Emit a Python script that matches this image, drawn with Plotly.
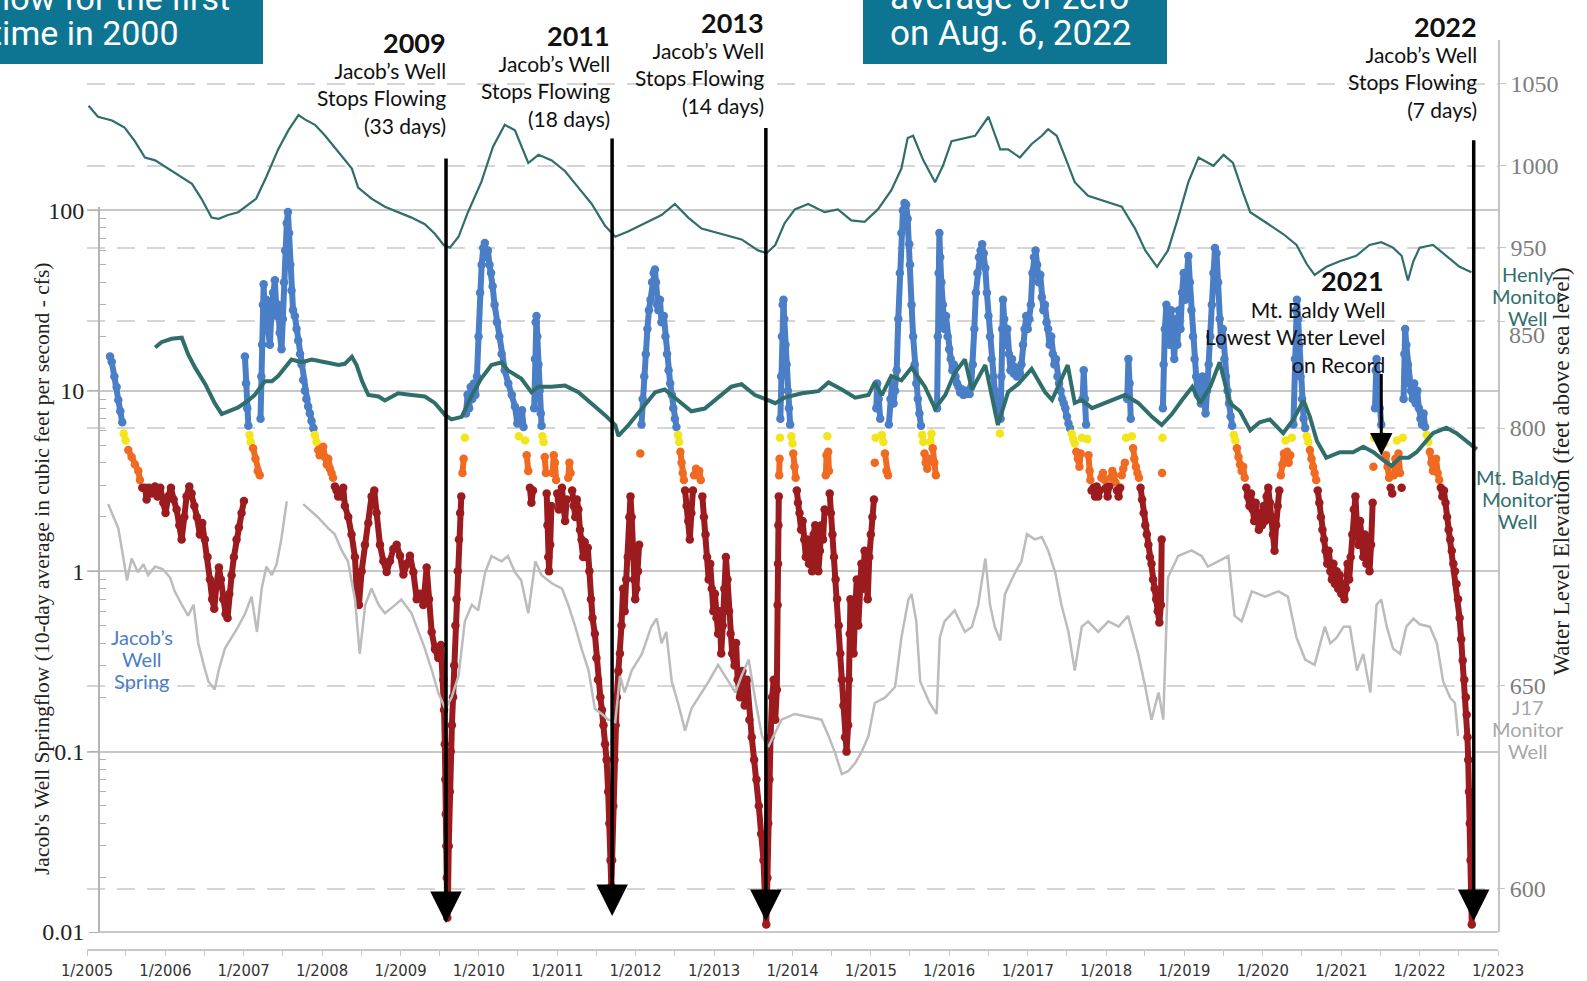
import plotly.graph_objects as go
from datetime import datetime

# ---------------- data (decimal year, value) ----------------
henly = [(2005.02,1036.7),(2005.14,1030.0),(2005.32,1027.7),(2005.48,1023.4),(2005.61,1015.1),(2005.74,1005.1),(2005.87,1003.4),(2006.04,998.4),(2006.21,993.4),(2006.34,989.1),(2006.46,980.1),(2006.59,968.5),(2006.68,967.8),(2006.80,970.1),(2006.93,971.8),(2007.06,976.8),(2007.16,980.1),(2007.29,993.4),(2007.44,1010.1),(2007.57,1021.7),(2007.70,1031.0),(2007.78,1028.4),(2007.91,1025.1),(2008.04,1018.4),(2008.21,1008.4),(2008.38,998.4),(2008.46,986.8),(2008.63,980.1),(2008.80,975.1),(2008.97,971.8),(2009.14,968.5),(2009.31,964.5),(2009.44,958.5),(2009.55,951.8),(2009.63,950.2),(2009.74,956.8),(2009.86,971.8),(2010.03,990.1),(2010.18,1011.7),(2010.33,1025.1),(2010.46,1021.7),(2010.63,1001.8),(2010.76,1006.8),(2010.93,1003.4),(2011.10,996.8),(2011.27,986.8),(2011.44,976.8),(2011.61,963.5),(2011.74,956.8),(2011.91,960.2),(2012.12,965.2),(2012.33,970.1),(2012.50,976.8),(2012.67,968.5),(2012.84,961.8),(2013.10,958.5),(2013.35,955.2),(2013.56,948.5),(2013.67,946.9),(2013.78,951.8),(2013.90,965.2),(2014.03,973.5),(2014.20,976.8),(2014.41,971.8),(2014.58,973.5),(2014.75,966.8),(2014.92,965.9),(2015.09,973.5),(2015.26,985.1),(2015.39,998.4),(2015.47,1017.0),(2015.54,1018.4),(2015.67,1003.4),(2015.82,990.1),(2015.92,1000.1),(2016.03,1015.1),(2016.16,1016.7),(2016.33,1018.4),(2016.50,1030.0),(2016.65,1010.1),(2016.75,1010.1),(2016.90,1005.1),(2017.05,1013.4),(2017.18,1018.4),(2017.26,1022.4),(2017.37,1018.4),(2017.48,1005.1),(2017.60,990.1),(2017.77,981.8),(2017.99,978.5),(2018.20,975.1),(2018.37,961.8),(2018.50,948.5),(2018.65,938.5),(2018.79,948.5),(2018.92,968.5),(2019.05,990.1),(2019.18,1005.1),(2019.37,1000.1),(2019.50,1006.8),(2019.62,1001.8),(2019.75,983.5),(2019.84,971.8),(2020.05,965.2),(2020.26,958.5),(2020.43,951.8),(2020.56,940.2),(2020.66,933.5),(2020.81,938.5),(2020.98,941.9),(2021.19,945.2),(2021.36,951.8),(2021.51,953.5),(2021.66,950.2),(2021.77,945.2),(2021.85,930.2),(2021.92,941.9),(2022.00,950.2),(2022.17,951.8),(2022.34,945.2),(2022.51,938.5),(2022.66,935.2)]

mt_baldy = [(2005.87,837.6),(2005.95,840.1),(2006.08,841.7),(2006.21,842.2),(2006.29,834.5),(2006.38,828.2),(2006.51,820.5),(2006.63,811.6),(2006.72,806.5),(2006.80,807.8),(2006.93,809.6),(2007.06,812.9),(2007.14,815.4),(2007.27,821.8),(2007.36,821.8),(2007.44,824.3),(2007.53,828.2),(2007.61,832.0),(2007.74,830.7),(2007.87,832.0),(2008.04,830.7),(2008.21,829.4),(2008.29,830.0),(2008.38,833.3),(2008.44,829.4),(2008.51,821.8),(2008.59,815.4),(2008.72,814.7),(2008.80,812.9),(2008.97,816.2),(2009.14,815.4),(2009.31,814.7),(2009.44,811.6),(2009.57,806.0),(2009.65,804.0),(2009.78,805.2),(2009.91,815.4),(2010.03,823.1),(2010.16,829.4),(2010.29,830.7),(2010.37,826.9),(2010.54,823.1),(2010.67,816.7),(2010.76,819.3),(2010.93,819.3),(2011.10,819.8),(2011.27,816.7),(2011.44,811.6),(2011.61,806.0),(2011.74,801.4),(2011.78,796.3),(2011.91,801.4),(2012.08,809.1),(2012.25,816.7),(2012.37,818.0),(2012.54,812.9),(2012.71,807.8),(2012.88,809.1),(2013.05,814.2),(2013.22,819.3),(2013.35,820.5),(2013.52,815.4),(2013.65,813.6),(2013.78,811.6),(2013.90,814.2),(2014.12,816.2),(2014.33,817.2),(2014.46,821.3),(2014.63,818.0),(2014.80,814.2),(2014.97,815.4),(2015.05,821.3),(2015.14,815.4),(2015.26,824.3),(2015.39,822.3),(2015.52,828.2),(2015.69,819.3),(2015.82,809.1),(2015.95,815.4),(2016.07,825.7),(2016.20,832.0),(2016.29,818.0),(2016.46,829.4),(2016.62,801.4),(2016.75,816.8),(2016.88,820.6),(2017.05,827.6),(2017.22,816.8),(2017.31,813.1),(2017.44,824.3),(2017.51,829.4),(2017.60,811.7),(2017.69,813.1),(2017.82,809.3),(2017.99,811.7),(2018.24,815.4),(2018.41,811.7),(2018.59,805.1),(2018.71,801.4),(2018.84,806.5),(2018.97,813.1),(2019.10,819.2),(2019.20,811.6),(2019.33,819.3),(2019.45,830.7),(2019.58,811.6),(2019.71,807.8),(2019.84,798.9),(2019.96,802.7),(2020.09,804.0),(2020.26,797.6),(2020.39,804.0),(2020.52,812.9),(2020.60,805.2),(2020.69,793.8),(2020.81,786.1),(2020.98,788.7),(2021.15,788.7),(2021.28,791.2),(2021.41,788.7),(2021.54,784.9),(2021.64,782.3),(2021.75,786.1),(2021.86,786.1),(2021.96,788.7),(2022.09,793.8),(2022.17,797.6),(2022.34,800.1),(2022.47,797.6),(2022.60,793.8),(2022.73,790.0)]

j17 = [(2005.27,694.8),(2005.34,691.5),(2005.40,688.8),(2005.46,682.0),(2005.51,676.0),(2005.57,681.4),(2005.65,678.0),(2005.72,680.0),(2005.78,677.3),(2005.87,679.4),(2005.97,678.7),(2006.06,676.7),(2006.12,673.3),(2006.21,670.0),(2006.29,667.3),(2006.36,670.0),(2006.42,660.5),(2006.49,655.2),(2006.55,651.1),(2006.63,649.1),(2006.68,653.8),(2006.76,659.2),(2006.85,661.9),(2006.93,664.6),(2007.02,667.9),(2007.10,672.0),(2007.17,663.3),(2007.23,674.0),(2007.29,679.4),(2007.36,677.3),(2007.42,680.0),(2007.48,686.1),(2007.55,695.5),(2007.65,None),(2007.76,694.8),(2007.95,691.5),(2008.08,688.8),(2008.16,687.4),(2008.25,683.4),(2008.33,680.7),(2008.42,671.3),(2008.48,657.9),(2008.55,670.0),(2008.63,674.0),(2008.72,670.0),(2008.80,667.9),(2008.89,669.3),(2009.01,671.3),(2009.14,667.9),(2009.23,663.3),(2009.31,659.2),(2009.40,653.8),(2009.48,648.4),(2009.57,644.4),(2009.65,647.1),(2009.74,652.5),(2009.82,665.9),(2009.91,670.0),(2009.99,668.6),(2010.08,678.0),(2010.16,682.0),(2010.29,680.7),(2010.37,682.0),(2010.46,678.0),(2010.54,676.0),(2010.63,667.9),(2010.72,680.7),(2010.80,677.3),(2010.93,675.3),(2011.06,674.0),(2011.14,670.0),(2011.23,664.6),(2011.31,659.2),(2011.40,653.8),(2011.48,644.4),(2011.57,643.1),(2011.65,641.7),(2011.74,641.1),(2011.80,652.5),(2011.86,648.4),(2011.95,653.8),(2012.08,657.9),(2012.20,664.6),(2012.27,666.6),(2012.33,660.5),(2012.39,663.3),(2012.46,651.1),(2012.54,645.8),(2012.63,639.0),(2012.71,644.4),(2012.80,647.1),(2012.93,651.1),(2013.05,655.2),(2013.18,651.1),(2013.27,648.4),(2013.35,652.5),(2013.44,656.5),(2013.52,647.1),(2013.61,637.7),(2013.69,635.0),(2013.78,638.4),(2013.86,641.7),(2014.03,643.1),(2014.20,642.4),(2014.37,641.7),(2014.46,637.7),(2014.54,633.7),(2014.63,628.3),(2014.71,629.0),(2014.80,631.0),(2014.88,633.7),(2014.97,637.7),(2015.05,645.8),(2015.18,647.1),(2015.31,649.8),(2015.39,661.9),(2015.48,671.3),(2015.52,672.6),(2015.58,665.9),(2015.63,651.1),(2015.69,648.4),(2015.75,645.8),(2015.84,643.1),(2015.88,661.9),(2015.94,665.9),(2016.07,668.6),(2016.20,663.3),(2016.29,664.6),(2016.37,670.0),(2016.46,681.4),(2016.52,670.0),(2016.58,664.6),(2016.65,661.2),(2016.71,672.6),(2016.84,678.0),(2016.92,680.7),(2016.99,687.4),(2017.09,686.1),(2017.18,686.7),(2017.26,683.4),(2017.35,678.0),(2017.43,670.0),(2017.52,663.3),(2017.60,653.8),(2017.69,664.6),(2017.77,665.9),(2017.90,663.3),(2018.03,665.9),(2018.16,664.6),(2018.28,667.3),(2018.41,657.9),(2018.50,649.8),(2018.58,641.7),(2018.67,648.4),(2018.73,641.7),(2018.79,676.7),(2018.92,682.0),(2019.09,683.4),(2019.22,682.0),(2019.30,679.4),(2019.43,680.7),(2019.56,682.0),(2019.64,667.3),(2019.73,665.9),(2019.86,673.3),(2020.03,672.0),(2020.20,673.3),(2020.32,672.0),(2020.43,661.9),(2020.54,656.5),(2020.66,655.2),(2020.79,664.6),(2020.86,660.5),(2020.94,661.9),(2021.03,664.6),(2021.11,664.6),(2021.20,653.8),(2021.28,657.9),(2021.37,648.4),(2021.45,670.0),(2021.51,671.3),(2021.58,664.6),(2021.66,659.2),(2021.75,657.9),(2021.83,664.6),(2021.92,666.6),(2022.00,665.2),(2022.13,664.6),(2022.22,660.5),(2022.30,651.1),(2022.39,647.1),(2022.45,645.8),(2022.49,637.7)]

springflow = [(2005.294,15.5),(2005.315,14.5),(2005.349,12.0),(2005.378,10.5),(2005.40,8.9),(2005.425,7.7),(2005.45,6.7),(2005.468,5.8),(2005.493,5.3),(2005.527,4.7),(2005.57,4.3),(2005.612,3.9),(2005.655,3.6),(2005.676,3.2),(2005.706,2.9),(2005.74,2.9),(2005.761,2.5),(2005.791,2.9),(2005.825,2.7),(2005.868,2.95),(2005.90,2.6),(2005.935,2.9),(2005.974,2.4),(2006.003,2.1),(2006.037,2.6),(2006.072,2.9),(2006.106,2.5),(2006.144,2.2),(2006.178,1.8),(2006.208,1.5),(2006.242,2.0),(2006.271,2.6),(2006.306,2.95),(2006.335,2.7),(2006.37,2.3),(2006.403,2.0),(2006.441,1.6),(2006.471,1.85),(2006.505,1.5),(2006.539,1.2),(2006.569,0.9),(2006.598,0.7),(2006.624,0.62),(2006.654,0.85),(2006.684,1.05),(2006.709,0.9),(2006.739,0.7),(2006.769,0.58),(2006.794,0.55),(2006.816,0.75),(2006.846,0.95),(2006.875,1.2),(2006.909,1.5),(2006.939,1.75),(2006.973,2.1),(2007.003,2.45),
(2007.016,15.5),(2007.03,11),(2007.045,8),(2007.06,6.4),(2007.075,5.7),(2007.09,5.2),(2007.12,4.8),(2007.15,4.2),(2007.18,3.6),(2007.205,3.4),(2007.215,7),(2007.225,12),(2007.235,18),(2007.245,30),(2007.255,39),(2007.27,24),(2007.29,32),(2007.31,22),(2007.335,18),(2007.355,28),(2007.375,35),(2007.398,41),(2007.42,26),(2007.44,30),(2007.46,21),(2007.483,17),(2007.50,25),(2007.515,40),(2007.53,60),(2007.55,85),(2007.565,98),(2007.58,75),(2007.595,50),(2007.611,36),(2007.63,28),(2007.653,26),(2007.675,22),(2007.696,19),(2007.72,16),(2007.738,14),(2007.76,11.5),(2007.781,10),(2007.80,9),(2007.823,8.2),(2007.845,7.5),(2007.866,6.8),(2007.89,6.2),(2007.908,5.7),(2007.93,5.2),(2007.951,4.7),(2007.97,4.4),(2007.993,4.8),(2008.015,4.9),(2008.036,4.3),(2008.06,3.9),(2008.079,4.2),(2008.10,3.7),(2008.121,3.5),(2008.14,3.3),(2008.164,2.95),(2008.185,2.8),(2008.206,2.6),
(2008.249,2.6),(2008.27,2.9),(2008.291,2.3),(2008.334,2.0),(2008.376,1.6),(2008.419,1.2),(2008.44,0.8),(2008.47,0.65),(2008.504,1.0),(2008.546,1.4),(2008.589,1.85),(2008.631,2.6),(2008.665,2.8),(2008.695,2.1),(2008.738,1.4),(2008.78,1.14),(2008.823,0.99),(2008.865,1.14),(2008.908,1.33),(2008.95,1.4),(2008.993,1.22),(2009.036,0.96),(2009.078,1.1),(2009.12,1.22),(2009.163,0.99),(2009.206,0.7),(2009.248,0.75),(2009.29,0.65),(2009.333,1.05),(2009.363,0.7),(2009.397,0.46),(2009.439,0.37),(2009.482,0.33),(2009.515,0.39),(2009.545,0.25),(2009.555,0.17),(2009.565,0.11),(2009.572,0.07),(2009.578,0.045),(2009.584,0.03),(2009.59,0.02),(2009.596,0.012),(2009.605,0.016),(2009.615,0.03),(2009.628,0.06),(2009.64,0.1),(2009.655,0.14),(2009.67,0.2),(2009.685,0.3),(2009.70,0.5),(2009.715,0.7),(2009.73,1.0),(2009.745,1.5),(2009.76,2.1),(2009.775,2.6),(2009.79,3.5),(2009.805,4.2),(2009.82,5.5),(2009.835,7.5),(2009.855,9.5),(2009.875,8),(2009.895,10.5),(2009.915,9),(2009.935,11),(2009.955,9.5),(2009.975,12),(2009.995,20),(2010.015,35),(2010.035,50),(2010.055,62),(2010.075,66),(2010.095,55),(2010.115,60),(2010.135,50),(2010.155,45),(2010.175,38),(2010.2,30),(2010.23,24),(2010.26,20),(2010.29,16),(2010.33,13),(2010.375,11),(2010.42,9.5),(2010.46,8.2),(2010.49,6.6),(2010.51,5.6),(2010.53,6.8),(2010.55,7.8),(2010.57,6.3),(2010.59,5.3),(2010.61,4.4),(2010.63,3.6),(2010.65,2.9),(2010.67,2.4),(2010.69,2.8),(2010.705,8),(2010.715,15),(2010.725,24),(2010.735,26),(2010.745,20),(2010.76,14),(2010.775,10),(2010.79,7.5),(2010.80,6.4),(2010.81,5.6),(2010.825,5.2),(2010.84,4.3),(2010.855,3.5),(2010.865,2.7),(2010.875,1.8),(2010.885,1.2),(2010.895,1.0),(2010.91,1.4),(2010.925,2.3),(2010.94,3.5),(2010.955,4.4),(2010.97,4.0),(2010.985,3.2),(2011.0,2.7),(2011.02,2.2),(2011.04,2.6),(2011.06,2.9),(2011.08,2.3),(2011.10,1.9),(2011.12,2.5),(2011.14,3.3),(2011.155,4.0),(2011.17,3.5),(2011.19,2.8),(2011.21,2.3),(2011.23,2.0),(2011.25,2.5),(2011.27,2.2),(2011.29,1.7),(2011.31,1.5),(2011.33,1.2),(2011.35,1.45),(2011.37,1.2),(2011.39,1.35),(2011.41,1.0),(2011.43,0.7),(2011.45,0.55),(2011.48,0.45),(2011.50,0.33),(2011.52,0.25),(2011.55,0.2),(2011.57,0.17),(2011.59,0.14),(2011.61,0.11),(2011.63,0.09),(2011.65,0.06),(2011.665,0.04),(2011.68,0.025),(2011.69,0.018),(2011.70,0.025),(2011.715,0.05),(2011.73,0.09),(2011.745,0.14),(2011.76,0.2),(2011.78,0.28),(2011.80,0.35),(2011.82,0.5),(2011.84,0.8),(2011.86,0.6),(2011.88,0.9),(2011.90,1.2),(2011.92,2.0),(2011.935,2.6),(2011.95,2.0),(2011.965,1.3),(2011.98,0.9),(2011.995,0.7),(2012.01,0.8),(2012.03,1.0),(2012.045,1.4),(2012.06,4.5),(2012.075,6.5),(2012.09,9),(2012.11,12),(2012.13,16),(2012.15,22),(2012.17,28),(2012.19,32),(2012.21,40),(2012.23,45),(2012.246,47),(2012.26,40),(2012.275,30),(2012.29,28),(2012.31,32),(2012.33,24),(2012.36,26),(2012.38,20),(2012.40,16),(2012.42,13),(2012.44,11),(2012.46,9.5),(2012.48,8),(2012.50,7),(2012.52,6.3),(2012.54,5.7),(2012.555,5.2),(2012.57,4.6),(2012.585,4.0),(2012.60,3.5),(2012.615,3.2),(2012.63,2.8),(2012.65,2.3),(2012.67,1.9),(2012.69,1.5),(2012.71,2.1),(2012.73,2.8),(2012.745,3.4),(2012.77,3.7),(2012.79,3.4),(2012.81,3.6),(2012.83,3.2),(2012.85,2.6),(2012.87,2.0),(2012.89,1.6),(2012.91,1.2),(2012.93,0.9),(2012.95,1.1),(2012.97,0.8),(2012.99,0.6),(2013.01,0.75),(2013.03,0.55),(2013.05,0.45),(2013.07,0.6),(2013.09,0.35),(2013.11,0.5),(2013.13,0.8),(2013.15,1.2),(2013.17,0.9),(2013.19,0.6),(2013.21,0.45),(2013.23,0.35),(2013.26,0.3),(2013.28,0.4),(2013.30,0.25),(2013.33,0.2),(2013.36,0.28),(2013.39,0.18),(2013.42,0.25),(2013.45,0.15),(2013.48,0.12),(2013.51,0.09),(2013.54,0.07),(2013.57,0.05),(2013.60,0.035),(2013.63,0.025),(2013.65,0.015),(2013.665,0.011),(2013.68,0.02),(2013.69,0.04),(2013.705,0.07),(2013.72,0.12),(2013.74,0.2),(2013.76,0.25),(2013.78,0.15),(2013.80,0.22),(2013.81,0.65),(2013.815,1.1),(2013.82,1.8),(2013.825,2.6),(2013.83,3.4),(2013.835,4.2),(2013.84,5.5),(2013.845,7),(2013.855,12),(2013.865,20),(2013.875,30),(2013.885,32),(2013.895,25),(2013.91,18),(2013.925,14),(2013.94,10),(2013.955,8),(2013.97,6.5),(2013.985,5.6),(2014.0,5.1),(2014.01,4.5),(2014.025,3.8),(2014.04,3.3),(2014.055,2.8),(2014.07,2.4),(2014.09,2.1),(2014.11,1.7),(2014.13,1.9),(2014.15,1.5),(2014.17,1.2),(2014.19,1.5),(2014.21,1.1),(2014.23,1.4),(2014.25,1.0),(2014.27,1.6),(2014.29,1.8),(2014.31,1.3),(2014.33,1.0),(2014.35,1.3),(2014.37,1.8),(2014.39,1.5),(2014.41,2.2),(2014.425,3.4),(2014.435,4.4),(2014.445,5.6),(2014.455,4.6),(2014.465,3.6),(2014.475,2.7),(2014.49,2.1),(2014.51,1.6),(2014.53,1.2),(2014.55,0.9),(2014.57,0.7),(2014.59,0.5),(2014.61,0.35),(2014.63,0.25),(2014.65,0.18),(2014.67,0.12),(2014.69,0.1),(2014.71,0.14),(2014.72,0.25),(2014.73,0.45),(2014.74,0.7),(2014.76,0.55),(2014.78,0.35),(2014.80,0.6),(2014.82,0.9),(2014.84,0.5),(2014.86,0.8),(2014.88,1.1),(2014.90,0.8),(2014.92,1.3),(2014.94,1.0),(2014.96,0.7),(2014.98,1.2),(2015.00,1.6),(2015.02,2.0),(2015.04,2.5),(2015.05,4.0),(2015.06,5.5),(2015.07,8),(2015.08,11),(2015.10,9),(2015.12,7),(2015.14,5.7),(2015.16,5.2),(2015.18,4.5),(2015.20,3.6),(2015.22,3.4),(2015.23,6.5),(2015.25,9),(2015.27,11),(2015.29,8.5),(2015.31,10),(2015.33,13),(2015.35,25),(2015.37,45),(2015.39,75),(2015.41,100),(2015.43,110),(2015.45,108),(2015.47,90),(2015.49,65),(2015.50,50),(2015.52,30),(2015.54,20),(2015.56,14),(2015.58,11),(2015.60,9),(2015.62,7.5),(2015.64,6.4),(2015.655,5.7),(2015.67,5.2),(2015.685,4.5),(2015.70,4.0),(2015.72,3.7),(2015.74,4.2),(2015.76,5.2),(2015.775,5.8),(2015.79,4.8),(2015.81,4.0),(2015.83,3.4),(2015.845,8),(2015.855,20),(2015.865,45),(2015.875,75),(2015.885,55),(2015.90,40),(2015.92,30),(2015.94,22),(2015.96,26),(2015.98,20),(2016.00,17),(2016.02,15),(2016.04,13),(2016.06,14),(2016.08,12),(2016.10,11),(2016.12,10.5),(2016.14,9.8),(2016.16,10.2),(2016.18,9.5),(2016.20,10),(2016.22,9.6),(2016.24,10),(2016.26,9.6),(2016.28,10.5),(2016.30,14),(2016.32,22),(2016.34,35),(2016.36,45),(2016.38,55),(2016.40,60),(2016.42,65),(2016.44,58),(2016.46,48),(2016.48,35),(2016.50,26),(2016.52,20),(2016.54,15),(2016.56,12),(2016.58,10),(2016.60,8.5),(2016.62,7.5),(2016.645,5.8),(2016.655,7),(2016.665,12),(2016.675,22),(2016.685,32),(2016.70,25),(2016.72,18),(2016.74,22),(2016.76,16),(2016.78,13),(2016.80,15),(2016.82,12.5),(2016.84,13.5),(2016.86,12),(2016.88,13),(2016.90,12.5),(2016.92,14),(2016.94,18),(2016.96,22),(2016.98,26),(2017.00,22),(2017.02,25),(2017.04,30),(2017.06,45),(2017.08,55),(2017.10,60),(2017.12,50),(2017.14,40),(2017.16,44),(2017.18,33),(2017.20,28),(2017.22,30),(2017.24,24),(2017.26,22),(2017.28,18),(2017.30,20),(2017.32,16),(2017.34,14),(2017.36,15),(2017.38,12),(2017.40,11),(2017.42,10),(2017.44,9),(2017.46,8.5),(2017.48,8),(2017.50,7.2),(2017.52,6.6),(2017.54,6.2),(2017.56,5.8),(2017.58,5.4),(2017.60,5.1),(2017.62,4.6),(2017.64,4.2),(2017.66,3.8),(2017.675,4.5),(2017.69,5.5),(2017.70,9),(2017.715,13),(2017.73,9),(2017.745,6.5),(2017.76,5.4),(2017.775,4.4),(2017.79,3.6),(2017.80,3.2),(2017.815,2.8),(2017.84,2.9),(2017.86,2.6),(2017.88,2.95),(2017.90,2.6),(2017.92,2.8),(2017.94,3.3),(2017.96,3.5),(2017.98,3.2),(2018.00,2.9),(2018.02,2.6),(2018.04,2.95),(2018.06,3.3),(2018.08,3.6),(2018.10,3.4),(2018.12,3.1),(2018.14,2.8),(2018.16,2.6),(2018.18,2.9),(2018.20,3.4),(2018.22,3.7),(2018.24,4.0),(2018.255,5.5),(2018.27,9),(2018.285,15),(2018.30,11),(2018.315,7),(2018.33,5.6),(2018.345,4.8),(2018.36,4.2),(2018.38,3.8),(2018.40,3.5),(2018.42,3.3),(2018.44,2.9),(2018.46,2.5),(2018.48,2.1),(2018.50,1.8),(2018.52,1.6),(2018.54,1.4),(2018.56,1.2),(2018.58,1.1),(2018.60,0.9),(2018.62,0.8),(2018.64,0.7),(2018.66,0.6),(2018.68,0.52),(2018.70,0.65),(2018.71,1.5),(2018.715,3.5),(2018.72,5.5),(2018.725,8),(2018.735,14),(2018.75,22),(2018.77,30),(2018.79,25),(2018.81,18),(2018.83,28),(2018.85,22),(2018.87,15),(2018.89,25),(2018.91,18),(2018.93,28),(2018.95,22),(2018.97,35),(2018.99,45),(2019.01,32),(2019.03,42),(2019.05,56),(2019.07,40),(2019.09,28),(2019.11,20),(2019.13,15),(2019.15,12),(2019.17,9.5),(2019.19,10.5),(2019.21,8.5),(2019.23,12),(2019.25,9),(2019.27,7.5),(2019.29,10),(2019.31,14),(2019.33,20),(2019.35,30),(2019.37,45),(2019.39,62),(2019.41,58),(2019.43,40),(2019.45,25),(2019.47,18),(2019.49,22),(2019.51,15),(2019.53,12),(2019.55,10),(2019.57,8.5),(2019.59,7.2),(2019.61,6.4),(2019.63,5.7),(2019.65,5.3),(2019.67,4.8),(2019.69,4.3),(2019.71,3.9),(2019.73,3.6),(2019.75,3.8),(2019.77,3.3),(2019.79,2.9),(2019.81,2.6),(2019.83,2.3),(2019.85,2.7),(2019.87,2.2),(2019.89,1.9),(2019.91,2.4),(2019.93,2.0),(2019.95,1.7),(2019.97,2.1),(2019.99,1.8),(2020.01,2.3),(2020.03,1.9),(2020.05,2.6),(2020.07,2.9),(2020.09,2.4),(2020.11,2.0),(2020.13,1.6),(2020.15,1.3),(2020.17,1.8),(2020.19,2.3),(2020.21,2.8),(2020.23,3.4),(2020.25,3.9),(2020.27,4.5),(2020.29,5.3),(2020.31,4.6),(2020.33,4.0),(2020.35,4.4),(2020.37,5.5),(2020.39,6.5),(2020.41,15),(2020.425,28),(2020.435,32),(2020.45,25),(2020.465,18),(2020.48,12),(2020.50,9),(2020.52,7),(2020.54,6.2),(2020.56,5.6),(2020.58,5.2),(2020.60,4.7),(2020.62,4.2),(2020.64,3.8),(2020.66,3.5),(2020.68,3.2),(2020.70,2.8),(2020.72,2.4),(2020.74,2.0),(2020.76,1.7),(2020.78,1.5),(2020.80,1.3),(2020.82,1.1),(2020.84,1.3),(2020.86,1.0),(2020.88,0.9),(2020.90,1.1),(2020.92,0.85),(2020.94,1.0),(2020.96,0.8),(2020.98,0.95),(2021.00,0.75),(2021.02,0.85),(2021.04,0.7),(2021.06,0.8),(2021.08,1.1),(2021.10,0.9),(2021.12,1.2),(2021.14,1.6),(2021.16,2.2),(2021.18,2.6),(2021.20,1.8),(2021.22,1.4),(2021.24,1.9),(2021.26,1.4),(2021.28,1.2),(2021.30,1.6),(2021.32,1.1),(2021.34,1.5),(2021.36,1.0),(2021.38,1.4),(2021.40,2.4),(2021.41,3.8),(2021.42,5.5),(2021.43,8),(2021.44,13),(2021.45,15),(2021.47,11),(2021.49,8),(2021.51,6.5),(2021.53,5.6),(2021.55,5.1),(2021.57,4.4),(2021.59,3.8),(2021.61,3.3),(2021.63,2.9),(2021.65,2.7),(2021.67,3.4),(2021.69,4.2),(2021.71,5.3),(2021.73,4.5),(2021.75,3.5),(2021.77,2.9),(2021.785,5.5),(2021.795,9),(2021.805,16),(2021.815,22),(2021.83,18),(2021.85,14),(2021.87,11),(2021.89,10),(2021.91,9),(2021.93,11),(2021.95,8.5),(2021.97,10),(2021.99,8),(2022.01,7),(2022.03,6.5),(2022.05,7.5),(2022.07,6.3),(2022.09,5.7),(2022.11,5.2),(2022.13,4.6),(2022.15,4.0),(2022.17,3.6),(2022.19,3.8),(2022.21,4.2),(2022.23,3.5),(2022.25,3.2),(2022.27,2.9),(2022.29,2.6),(2022.31,2.8),(2022.33,2.4),(2022.35,2.0),(2022.37,1.7),(2022.39,1.5),(2022.41,1.3),(2022.43,1.1),(2022.45,1.0),(2022.47,0.85),(2022.49,0.7),(2022.51,0.55),(2022.53,0.42),(2022.55,0.32),(2022.57,0.25),(2022.59,0.2),(2022.60,0.16),(2022.61,0.12),(2022.62,0.09),(2022.63,0.06),(2022.64,0.04),(2022.65,0.025),(2022.66,0.015),(2022.665,0.011)]

# flow classes (cfs thresholds) and colours
flow_classes = [("blue", 6, 1e9, "#4a7ec6"), ("yellow", 5, 6, "#f2e51c"),
                ("orange", 3, 5, "#f06a22"), ("red", 0, 3, "#9b1b1f")]

# event arrows: (decimal year, label year, text)
events = [(2009.58, "2009", "Jacob’s Well<br>Stops Flowing<br>(33 days)"),
          (2011.70, "2011", "Jacob’s Well<br>Stops Flowing<br>(18 days)"),
          (2013.66, "2013", "Jacob’s Well<br>Stops Flowing<br>(14 days)"),
          (2022.69, "2022", "Jacob’s Well<br>Stops Flowing<br>(7 days)")]
baldy_low_year = 2021.51

# ---------------- helpers ----------------
def to_date(y):
    yr = int(y)
    s, e = datetime(yr, 1, 1), datetime(yr + 1, 1, 1)
    return (s + (e - s) * (y - yr)).strftime("%Y-%m-%d %H:%M")

W, H = 1587, 981
L, R, T, B = 87, 89, 40, 5
PW, PH = W - L - R, H - T - B
def px(X):  # pixel x -> paper
    return (X - L) / PW
def py(Y):  # pixel y -> paper
    return (H - B - Y) / PH
ydom0 = py(932)
def yd(Y):  # pixel y -> y domain fraction
    return (932 - Y) / (932 - T)

TEAL = "#2f6e6b"
SERIF = "Liberation Serif, Times New Roman, serif"
SANS = "Lato, Open Sans, sans-serif"
BOXF = "Roboto, Open Sans, sans-serif"
NARROW = "Liberation Sans Narrow, DejaVu Sans Condensed, Arial Narrow, sans-serif"

fig = go.Figure()

# J17 (grey)
fig.add_trace(go.Scatter(x=[to_date(a) for a, b in j17], y=[b for a, b in j17], yaxis="y4",
                         mode="lines", line=dict(color="#bcbcbc", width=2.5), connectgaps=False,
                         hoverinfo="skip"))

# springflow coloured by class
for name, lo, hi, col in flow_classes:
    xs, ys = [], []
    for a, v in springflow:
        if lo <= v < hi:
            xs.append(to_date(a)); ys.append(v)
        elif xs and xs[-1] is not None:
            xs.append(None); ys.append(None)
    fig.add_trace(go.Scatter(x=xs, y=ys, yaxis="y", mode="lines+markers",
                             line=dict(color=col, width=6), marker=dict(color=col, size=8.5),
                             connectgaps=False, hoverinfo="skip"))

# Henly and Mt Baldy wells
fig.add_trace(go.Scatter(x=[to_date(a) for a, b in henly], y=[b for a, b in henly], yaxis="y2",
                         mode="lines", line=dict(color=TEAL, width=2.2), hoverinfo="skip"))
fig.add_trace(go.Scatter(x=[to_date(a) for a, b in mt_baldy], y=[b for a, b in mt_baldy], yaxis="y3",
                         mode="lines", line=dict(color=TEAL, width=4), hoverinfo="skip"))

rgrid = dict(showgrid=True, gridcolor="#d5d5d5", gridwidth=1.5, griddash="18px,12px",
             tickfont=dict(family=SERIF, size=24, color="#7d7d7d"), ticks="outside",
             ticklen=6, tickcolor="#c4c4c4", zeroline=False, side="right", automargin=False,
             overlaying="y", anchor="x", domain=[ydom0, 1])

minor_vals = [m * 10 ** d for d in range(-2, 2) for m in range(2, 10)]

fig.update_layout(
    width=W, height=H, margin=dict(l=L, r=R, t=T, b=B, autoexpand=False),
    plot_bgcolor="white", paper_bgcolor="white", showlegend=False,
    xaxis=dict(type="date", range=["2005-01-01", "2023-01-01"], anchor="free", position=py(950),
               showline=True, linecolor="#c8c8c8", linewidth=2, ticks="outside", ticklen=5,
               tickcolor="#c8c8c8", dtick="M12", tick0="2005-01-01", tickformat="%-m/%Y",
               tickfont=dict(family=NARROW, size=16.5, color="#333"), showgrid=False, zeroline=False,
               automargin=False,
               minor=dict(dtick="M6", ticks="outside", ticklen=5, tickcolor="#c8c8c8", showgrid=False)),
    yaxis=dict(type="log", range=[-2, 2.945], domain=[ydom0, 1], anchor="free", position=px(99),
               tickmode="array", tickvals=[0.01, 0.1, 1, 10, 100], ticktext=["0.01", "0.1", "1", "10", "100"],
               tickfont=dict(family=SERIF, size=24, color="#222"), showgrid=True, gridcolor="#c8c8c8",
               gridwidth=1.5, showline=False, ticks="outside", ticklen=10, tickcolor="#b0b0b0",
               zeroline=False, automargin=False,
               minor=dict(tickmode="array", tickvals=minor_vals, ticks="inside", ticklen=6,
                          tickcolor="#b0b0b0", showgrid=False)),
    yaxis2=dict(range=[532.9, 1076.8], tickmode="array", tickvals=[950, 1000, 1050],
                showline=True, linecolor="#c4c4c4", linewidth=1.5, **rgrid),
    yaxis3=dict(range=[564.5, 981.3], tickmode="array", tickvals=[800, 850], ticktext=["800", ""],
                showline=False, **rgrid),
    yaxis4=dict(range=[589.4, 809.1], tickmode="array", tickvals=[600, 650], showline=False, **rgrid),
)

# '850' label sits a little below its gridline in the reference
fig.add_annotation(x=px(1507), y=py(335), xref="paper", yref="paper", xanchor="left", yanchor="middle",
                   text="850", showarrow=False, font=dict(family=SERIF, size=24, color="#7d7d7d"))

# bottom 0.01 line and left axis line
fig.add_shape(type="line", xref="paper", yref="paper", x0=px(99), x1=1, y0=ydom0, y1=ydom0,
              line=dict(color="#c8c8c8", width=2))
fig.add_shape(type="line", xref="paper", yref="y domain", x0=px(99), x1=px(99), y0=0, y1=yd(207),
              line=dict(color="#b4b4b4", width=2))

# arrows and event labels
tails = {"2009": 157, "2011": 137, "2013": 126.5, "2022": 138.7}
heads = {"2009": 923, "2011": 916, "2013": 921, "2022": 921}
lab = {"2009": (448, 42.5, 98), "2011": (612, 35.4, 91), "2013": (766, 22.3, 78), "2022": (1479, 26.3, 82)}
for yrdec, yl, txt in events:
    d = to_date(yrdec)
    fig.add_annotation(x=d, y=yd(heads[yl]), xref="x", yref="y domain", ax=d, ay=yd(tails[yl]),
                       axref="x", ayref="y domain", showarrow=True, arrowhead=2, arrowsize=1.8,
                       arrowwidth=3.5, arrowcolor="black", text="", standoff=0)
    rx, yy, by = lab[yl]
    fig.add_annotation(x=px(rx), y=py(yy), xref="paper", yref="paper", xanchor="right", yanchor="middle",
                       text="<b>" + yl + "</b>", showarrow=False, font=dict(family=SANS, size=27, color="#111"))
    fig.add_annotation(x=px(rx), y=py(by), xref="paper", yref="paper", xanchor="right", yanchor="middle",
                       text=txt, align="right", showarrow=False, font=dict(family=SANS, size=21, color="#111"))

d = to_date(baldy_low_year)
fig.add_annotation(x=d, y=yd(455.6), xref="x", yref="y domain", ax=d, ay=yd(372.6), axref="x",
                   ayref="y domain", showarrow=True, arrowhead=2, arrowsize=1.5, arrowwidth=3,
                   arrowcolor="black", text="", standoff=0)
fig.add_annotation(x=px(1386), y=py(280), xref="paper", yref="paper", xanchor="right", yanchor="middle",
                   text="<b>2021</b>", showarrow=False, font=dict(family=SANS, size=27, color="#111"))
fig.add_annotation(x=px(1387), y=py(337), xref="paper", yref="paper", xanchor="right", yanchor="middle",
                   text="Mt. Baldy Well<br>Lowest Water Level<br>on Record", align="right", showarrow=False,
                   font=dict(family=SANS, size=21, color="#111"))

# series labels (one annotation per line for tight spacing)
def stack(lines, cx, ys, color):
    for t, yy in zip(lines, ys):
        fig.add_annotation(x=px(cx), y=py(yy), xref="paper", yref="paper", xanchor="center",
                           yanchor="middle", text=t, showarrow=False,
                           font=dict(family=SANS, size=20, color=color))
stack(["Jacob’s", "Well", "Spring"], 141.7, [637, 659, 681], "#4a7ec6")
stack(["Henly", "Monitor", "Well"], 1528, [274, 296, 318], TEAL)
stack(["Mt. Baldy", "Monitor", "Well"], 1518, [477, 499, 521], TEAL)
stack(["J17", "Monitor", "Well"], 1528, [707, 729, 751], "#a8a8a8")

# axis titles
fig.add_annotation(x=px(28), y=py(569), xref="paper", yref="paper", textangle=-90, showarrow=False,
                   text="Jacob's Well Springflow (10-day average in cubic feet per second - cfs)",
                   font=dict(family=SERIF, size=21.5, color="#222"))
fig.add_annotation(x=px(1575), y=py(472), xref="paper", yref="paper", textangle=-90, showarrow=False,
                   text="Water Level Elevation (feet above sea level)",
                   font=dict(family=SERIF, size=23, color="#222"))

# teal callout boxes at top (cropped)
BOX = "#0d7491"
for x0, x1 in [(0, 263), (868, 1167)]:
    fig.add_shape(type="rect", xref="paper", yref="paper", x0=px(x0 - 5), x1=px(x1), y0=py(64), y1=py(-5),
                  fillcolor=BOX, line=dict(width=0), layer="above")
for t, xl, yy, fs in [("flow for the first", -11, -2, 34), ("time in 2000", -11, 33.4, 34),
                      ("average of zero", 888, -2, 35), ("on Aug. 6, 2022", 888, 33.5, 35)]:
    fig.add_annotation(x=px(xl), y=py(yy), xref="paper", yref="paper", xanchor="left", yanchor="middle",
                       text=t, showarrow=False, font=dict(family=BOXF, size=fs, color="white"))

fig.write_html("out.html", config={"displayModeBar": False},
               post_script="document.body.style.margin='0';document.body.style.overflow='hidden';")
